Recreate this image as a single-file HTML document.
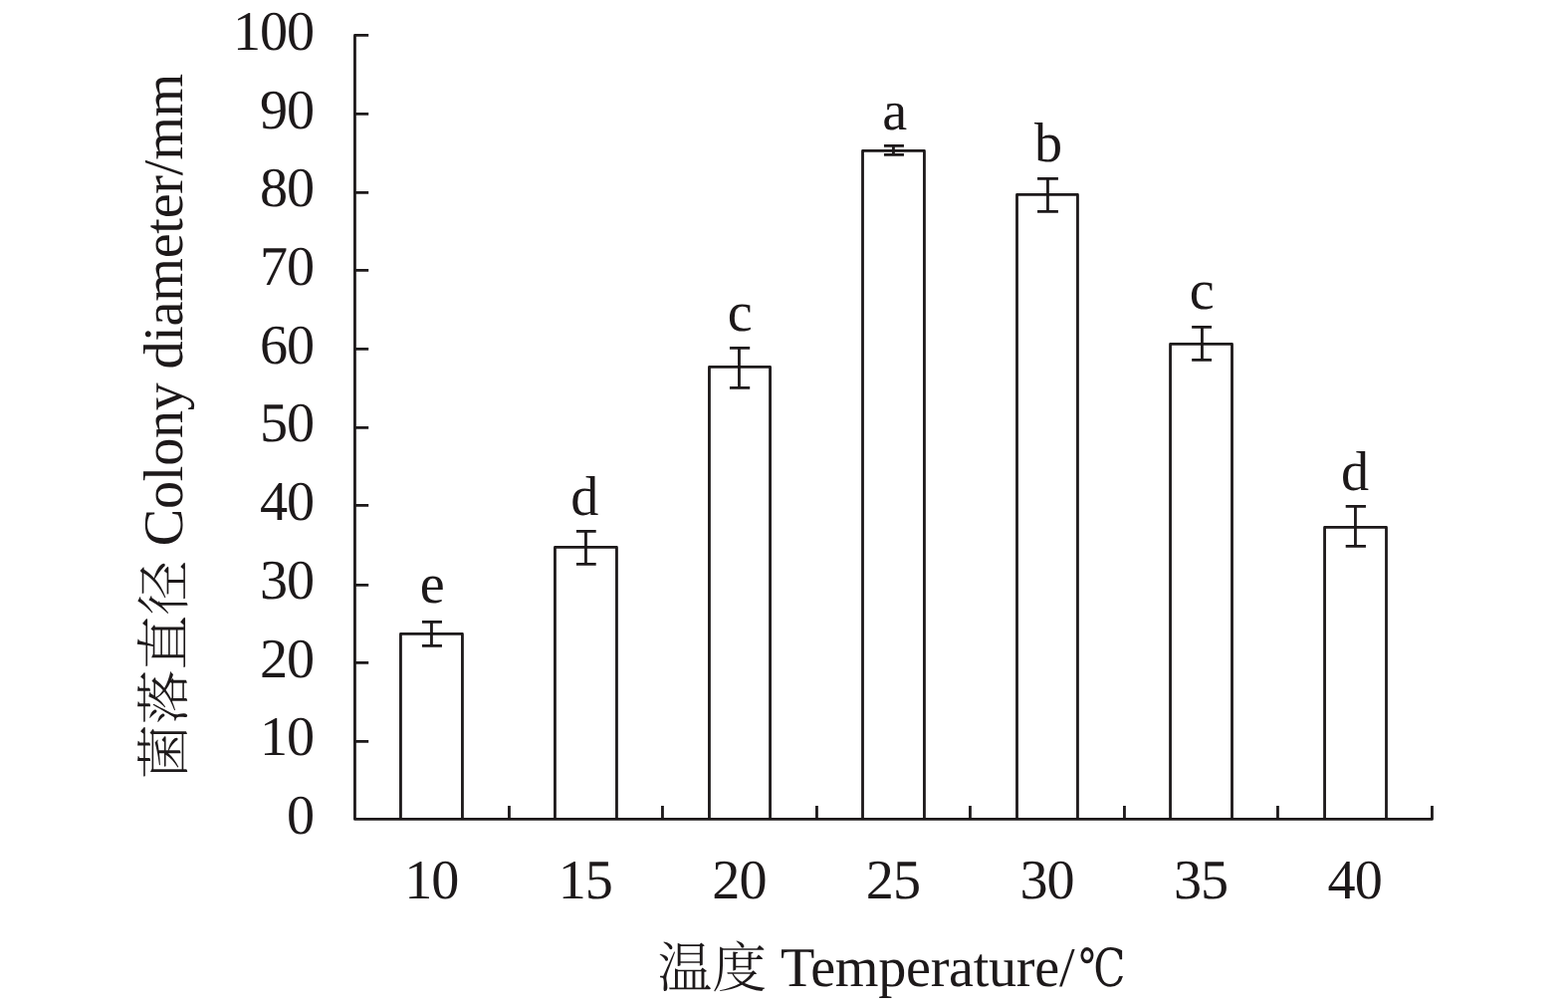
<!DOCTYPE html>
<html lang="zh"><head><meta charset="utf-8">
<style>html,body{margin:0;padding:0;background:#fff;}body{width:1575px;height:1012px;overflow:hidden;}svg{display:block;}text{fill:#1d191a;white-space:pre;text-rendering:geometricPrecision;}.la{font-family:"Liberation Serif","Noto Serif CJK SC",serif;}.zh{font-family:"Noto Serif CJK SC","Liberation Serif",serif;font-weight:300;}.dg{font-family:"DejaVu Serif","Noto Serif CJK SC",serif;}.ln{stroke:#1d191a;stroke-width:2.8;fill:none;stroke-linecap:butt;stroke-linejoin:round;}</style></head><body>
<svg width="1575" height="1012" viewBox="0 0 1575 1012">
<rect x="0" y="0" width="1575" height="1012" fill="#ffffff"/>
<g id="bars">
<path class="ln" d="M402.45 822.40 V636.40 H464.45 V822.40"/>
<path class="ln" d="M423.95 624.40 H443.95 M433.45 624.40 V648.40 M423.95 648.40 H443.95"/>
<path class="ln" d="M557.45 822.40 V549.40 H619.45 V822.40"/>
<path class="ln" d="M578.95 533.40 H598.70 M588.45 533.40 V566.40 M578.95 566.40 H598.70"/>
<path class="ln" d="M712.45 822.40 V368.40 H773.55 V822.40"/>
<path class="ln" d="M732.95 349.40 H753.20 M742.45 349.40 V389.40 M732.95 389.40 H753.20"/>
<path class="ln" d="M866.50 822.40 V151.40 H928.45 V822.40"/>
<path class="ln" d="M887.95 146.40 H907.95 M897.45 146.40 V155.40 M887.95 155.40 H907.95"/>
<path class="ln" d="M1021.50 822.40 V195.40 H1082.45 V822.40"/>
<path class="ln" d="M1042.05 179.40 H1062.90 M1052.45 179.40 V212.40 M1042.05 212.40 H1062.90"/>
<path class="ln" d="M1175.55 822.40 V345.40 H1237.50 V822.40"/>
<path class="ln" d="M1197.15 328.40 H1217.05 M1207.45 328.40 V361.40 M1197.15 361.40 H1217.05"/>
<path class="ln" d="M1330.55 822.40 V529.40 H1392.50 V822.40"/>
<path class="ln" d="M1351.70 508.40 H1371.95 M1361.45 508.40 V548.40 M1351.70 548.40 H1371.95"/>
</g>
<g id="axes">
<path class="ln" d="M370.20 35.40 H356.45 V822.40 H1438.45 V809.00"/>
<path class="ln" d="M356.45 744.40 H370.20 M356.45 665.40 H370.20 M356.45 587.40 H370.20 M356.45 507.40 H370.20 M356.45 429.40 H370.20 M356.45 350.40 H370.20 M356.45 271.40 H370.20 M356.45 193.40 H370.20 M356.45 114.40 H370.20"/>
<path class="ln" d="M511.45 822.40 V809.00 M665.45 822.40 V809.00 M820.45 822.40 V809.00 M974.45 822.40 V809.00 M1129.45 822.40 V809.00 M1283.45 822.40 V809.00"/>
</g>
<g id="ylabels">
<text class="la" transform="translate(315.20 49.90)" font-size="56.2" text-anchor="end" letter-spacing="-1.0">100</text>
<text class="la" transform="translate(315.20 128.60)" font-size="56.2" text-anchor="end" letter-spacing="-1.0">90</text>
<text class="la" transform="translate(315.20 207.30)" font-size="56.2" text-anchor="end" letter-spacing="-1.0">80</text>
<text class="la" transform="translate(315.20 286.00)" font-size="56.2" text-anchor="end" letter-spacing="-1.0">70</text>
<text class="la" transform="translate(315.20 364.70)" font-size="56.2" text-anchor="end" letter-spacing="-1.0">60</text>
<text class="la" transform="translate(315.20 443.40)" font-size="56.2" text-anchor="end" letter-spacing="-1.0">50</text>
<text class="la" transform="translate(315.20 522.10)" font-size="56.2" text-anchor="end" letter-spacing="-1.0">40</text>
<text class="la" transform="translate(315.20 600.80)" font-size="56.2" text-anchor="end" letter-spacing="-1.0">30</text>
<text class="la" transform="translate(315.20 679.50)" font-size="56.2" text-anchor="end" letter-spacing="-1.0">20</text>
<text class="la" transform="translate(315.20 758.20)" font-size="56.2" text-anchor="end" letter-spacing="-1.0">10</text>
<text class="la" transform="translate(315.20 836.90)" font-size="56.2" text-anchor="end" letter-spacing="-1.0">0</text>
</g>
<g id="letters">
<text class="la" transform="translate(434.25 605.05)" font-size="56.2" text-anchor="middle">e</text>
<text class="la" transform="translate(587.20 516.80)" font-size="56.2" text-anchor="middle">d</text>
<text class="la" transform="translate(743.10 332.05)" font-size="56.2" text-anchor="middle">c</text>
<text class="la" transform="translate(898.80 129.80)" font-size="56.2" text-anchor="middle">a</text>
<text class="la" transform="translate(1053.00 162.00)" font-size="56.2" text-anchor="middle">b</text>
<text class="la" transform="translate(1207.10 310.10)" font-size="56.2" text-anchor="middle">c</text>
<text class="la" transform="translate(1361.00 492.00)" font-size="56.2" text-anchor="middle">d</text>
</g>
<g id="xlabels">
<text class="la" transform="translate(433.24 901.75)" font-size="56.2" text-anchor="middle" letter-spacing="-1.0">10</text>
<text class="la" transform="translate(587.81 901.75)" font-size="56.2" text-anchor="middle" letter-spacing="-1.0">15</text>
<text class="la" transform="translate(742.38 901.75)" font-size="56.2" text-anchor="middle" letter-spacing="-1.0">20</text>
<text class="la" transform="translate(896.95 901.75)" font-size="56.2" text-anchor="middle" letter-spacing="-1.0">25</text>
<text class="la" transform="translate(1051.52 901.75)" font-size="56.2" text-anchor="middle" letter-spacing="-1.0">30</text>
<text class="la" transform="translate(1206.09 901.75)" font-size="56.2" text-anchor="middle" letter-spacing="-1.0">35</text>
<text class="la" transform="translate(1360.66 901.75)" font-size="56.2" text-anchor="middle" letter-spacing="-1.0">40</text>
</g>
<g id="xtitle">
<text class="zh" transform="translate(660.40 990.60)" font-size="54.8" text-anchor="start">温度 </text>
<text class="la" transform="translate(784.10 990.40)" font-size="56.2" text-anchor="start" letter-spacing="-0.3">Temperature/</text>
<text class="dg" transform="translate(1083.40 989.70) scale(0.8 1)" font-size="52.5" text-anchor="start">℃</text>
</g>
<g id="ytitle">
<text class="zh" transform="translate(184.00 782.00) rotate(-90)" font-size="54.8" text-anchor="start">菌落直径 </text>
<text class="la" transform="translate(183.30 548.20) rotate(-90)" font-size="56.2" text-anchor="start" letter-spacing="-0.27">Colony diameter/mm</text>
</g>
</svg></body></html>
